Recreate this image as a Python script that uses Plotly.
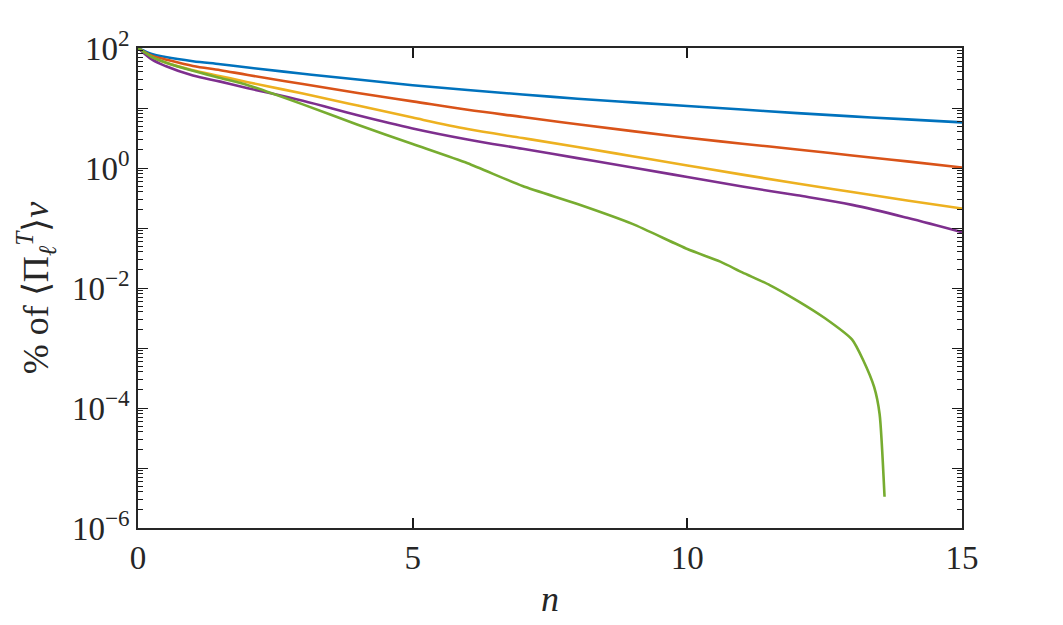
import plotly.graph_objects as go

# ---- data ----
n_grid = [0, 0.25, 0.5, 1, 1.5, 2, 3, 4, 5, 6, 7, 8, 9, 10, 11, 12, 13, 14, 15]
blue_pct = [100, 79.4, 70.8, 60.3, 53.7, 47.3, 37.2, 29.9, 24.0, 20.0, 16.8, 14.3, 12.4, 10.8, 9.44, 8.22, 7.24, 6.46, 5.75]
red_pct = [100, 74.1, 64.6, 50.1, 42.7, 35.5, 25.1, 17.8, 12.9, 9.33, 7.08, 5.37, 4.12, 3.20, 2.54, 2.04, 1.62, 1.29, 1.02]
yellow_pct = [100, 70.8, 57.5, 42.7, 33.9, 26.9, 17.4, 11.0, 6.92, 4.47, 3.16, 2.24, 1.57, 1.10, 0.776, 0.550, 0.398, 0.288, 0.211]
purple_pct = [100, 64.6, 50.1, 34.7, 27.5, 21.4, 13.2, 7.59, 4.57, 2.99, 2.09, 1.46, 1.02, 0.708, 0.490, 0.351, 0.243, 0.148, 0.0851]

n_green = [0, 0.25, 0.5, 1, 1.5, 2, 3, 4, 5, 6, 7, 8, 9, 10, 10.6, 11, 11.5, 12, 12.5, 13, 13.2, 13.4, 13.5, 13.59]
green_pct = [100, 70.8, 57.5, 41.7, 31.6, 24.0, 11.5, 5.25, 2.51, 1.20, 0.501, 0.251, 0.117, 0.0447, 0.0275,
             0.0182, 0.0112, 0.00617, 0.00316, 0.00138, 0.000631, 0.000224, 0.0000794, 0.00000331]

x_ticks = [0, 5, 10, 15]
y_tickvals = [1e-6, 1e-5, 1e-4, 1e-3, 1e-2, 1e-1, 1, 10, 100]
y_ticktext = ["10<sup>−6</sup>", "", "10<sup>−4</sup>", "", "10<sup>−2</sup>", "", "10<sup>0</sup>", "", "10<sup>2</sup>"]

colors = ["#0072BD", "#D95319", "#EDB120", "#7E2F8E", "#77AC30"]

FONT = "Liberation Serif"
INK = "#262626"

fig = go.Figure()
series = [(n_grid, blue_pct, 1.0), (n_grid, red_pct, 1.0), (n_grid, yellow_pct, 1.0),
          (n_grid, purple_pct, 1.0), (n_green, green_pct, 0.6)]
for (xs, ys, sm), c in zip(series, colors):
    fig.add_trace(go.Scatter(x=xs, y=ys, mode="lines",
                             line=dict(color=c, width=2.6, shape="spline", smoothing=sm),
                             showlegend=False))

fig.update_xaxes(
    range=[0, 15], tickmode="array", tickvals=x_ticks,
    ticks="inside", ticklen=10, tickwidth=1.5, tickcolor="#1a1a1a", layer="above traces",
    showgrid=False, zeroline=False, showline=True, linecolor=INK, linewidth=1.5, mirror="ticks",
    tickfont=dict(family=FONT, size=33, color=INK),
    title=dict(text="<i>n</i>", font=dict(family=FONT, size=36, color=INK), standoff=10),
)
fig.update_yaxes(
    type="log", range=[-6, 2], tickmode="array", tickvals=y_tickvals, ticktext=y_ticktext,
    ticks="inside", ticklen=10, tickwidth=1.3, tickcolor="#1a1a1a", mirror="allticks",
    showgrid=False, zeroline=False, showline=True, linecolor=INK, linewidth=1.5,
    tickfont=dict(family=FONT, size=33, color=INK),
    minor=dict(ticks="inside", dtick="D1", ticklen=5, tickcolor="#1a1a1a", tickwidth=1.2, showgrid=False),
    title=dict(text="% of ⟨Π<sub><i>ℓ</i></sub><sup><i>T</i></sup>⟩<i>ν</i>",
               font=dict(family=FONT, size=36, color=INK), standoff=12),
)

fig.update_layout(
    width=1063, height=625,
    margin=dict(l=138, r=101, t=48, b=97),
    plot_bgcolor="white", paper_bgcolor="white",
)

fig.write_html("out.html")
